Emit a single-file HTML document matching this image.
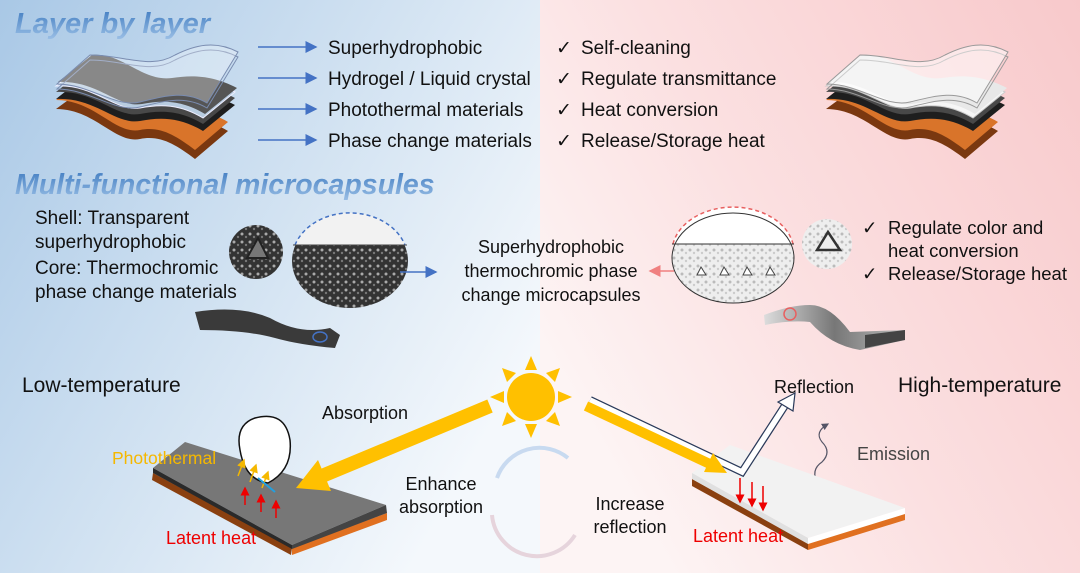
<!DOCTYPE html>
<html><head><meta charset="utf-8"><style>
html,body{margin:0;padding:0;width:1080px;height:573px;overflow:hidden}
svg{display:block;font-family:"Liberation Sans",Arial,sans-serif}
</style></head><body>
<svg width="1080" height="573" viewBox="0 0 1080 573" xmlns="http://www.w3.org/2000/svg">
<defs>
<linearGradient id="bl" x1="0" y1="0" x2="1" y2="0.6">
<stop offset="0" stop-color="#a9c8e6"/><stop offset="0.6" stop-color="#d6e5f3"/><stop offset="1" stop-color="#f4f8fc"/></linearGradient>
<linearGradient id="pk" x1="1" y1="0" x2="0" y2="0.6">
<stop offset="0" stop-color="#f8c9cb"/><stop offset="0.6" stop-color="#fbe0e1"/><stop offset="1" stop-color="#fdf4f4"/></linearGradient>
<linearGradient id="tt" x1="0" y1="0" x2="0" y2="1"><stop offset="0" stop-color="#3f7bc0"/><stop offset="1" stop-color="#9cc0e6"/></linearGradient>
<linearGradient id="gr" x1="0" y1="0" x2="1" y2="0"><stop offset="0" stop-color="#ddd"/><stop offset="0.5" stop-color="#777"/><stop offset="1" stop-color="#bbb"/></linearGradient>
<marker id="ab" markerWidth="8" markerHeight="8" refX="7" refY="4" orient="auto"><path d="M0,0 L8,4 L0,8z" fill="#4472c4"/></marker>
<marker id="ar" markerWidth="8" markerHeight="8" refX="7" refY="4" orient="auto"><path d="M0,0 L8,4 L0,8z" fill="#f08080"/></marker>
<marker id="rd" markerWidth="6" markerHeight="6" refX="5" refY="3" orient="auto"><path d="M0,0 L6,3 L0,6z" fill="#e00"/></marker>
<marker id="yl" markerWidth="6" markerHeight="6" refX="5" refY="3" orient="auto"><path d="M0,0 L6,3 L0,6z" fill="#f5b800"/></marker>
<marker id="gy" markerWidth="6" markerHeight="6" refX="5" refY="3" orient="auto"><path d="M0,0 L6,3 L0,6z" fill="#556"/></marker>
<pattern id="dots" width="8" height="8" patternUnits="userSpaceOnUse"><rect width="8" height="8" fill="#333"/><circle cx="2" cy="2" r="1.5" fill="#aaa"/><circle cx="6" cy="5" r="1.2" fill="#777"/></pattern>
<pattern id="ldots" width="8" height="8" patternUnits="userSpaceOnUse"><rect width="8" height="8" fill="#eee"/><circle cx="2" cy="2" r="1.5" fill="#bbb"/><circle cx="6" cy="5" r="1.2" fill="#ccc"/></pattern>
<g id="orng"><path d="M56,100 C95,100 115,135 140,130 C160,126 175,135 195,150 L228,122 C205,108 185,110 165,110 C140,110 120,75 90,75 Z"/></g>
<g id="blk"><path d="M56,92 C95,90 115,118 140,114 C160,110 180,110 203,124 L235,98 C210,85 190,85 170,88 C140,92 120,62 90,65 Z"/></g>
<g id="trn"><path d="M57,84 C90,84 115,108 140,102 C165,96 185,90 207,103 L238,52 C215,40 195,45 175,55 C150,70 125,55 90,55 Z"/></g>
</defs>
<rect x="0" y="0" width="540" height="573" fill="url(#bl)"/>
<rect x="540" y="0" width="540" height="573" fill="url(#pk)"/>

<text x="15" y="33" font-size="29" font-weight="bold" font-style="italic" fill="url(#tt)">Layer by layer</text>
<text x="15" y="194" font-size="28.5" font-weight="bold" font-style="italic" fill="url(#tt)">Multi-functional microcapsules</text>

<g>
<use href="#orng" transform="translate(0,9)" fill="#7a3810"/>
<use href="#orng" fill="#d9742a"/>
<use href="#blk" transform="translate(0,7)" fill="#1e1e1e"/>
<use href="#blk" fill="#484848"/>
<use href="#blk" transform="translate(0,-6)" fill="#b8cce0" stroke="#eef" stroke-width="1"/>
<use href="#blk" transform="translate(2,-10)" fill="#555"/>
<use href="#trn" transform="translate(0,5)" fill="none" stroke="#7a8cb0" stroke-width="1"/>
<use href="#trn" fill="rgba(255,255,255,0.3)" stroke="#7a8cb0" stroke-width="1"/>
</g>
<g transform="translate(770,0)">
<use href="#orng" transform="translate(0,9)" fill="#7a3810"/>
<use href="#orng" fill="#d9742a"/>
<use href="#blk" transform="translate(0,7)" fill="#1e1e1e"/>
<use href="#blk" fill="#484848"/>
<use href="#blk" transform="translate(0,-6)" fill="#f6f6f6" stroke="#ccc" stroke-width="1"/>
<use href="#blk" transform="translate(2,-10)" fill="#e8e8e8"/>
<use href="#trn" transform="translate(0,5)" fill="none" stroke="#999" stroke-width="1"/>
<use href="#trn" fill="rgba(255,255,255,0.5)" stroke="#999" stroke-width="1"/>
</g>

<g stroke="#4472c4" stroke-width="1.5" marker-end="url(#ab)">
<line x1="258" y1="47" x2="316" y2="47"/><line x1="258" y1="78" x2="316" y2="78"/>
<line x1="258" y1="109" x2="316" y2="109"/><line x1="258" y1="140" x2="316" y2="140"/>
</g>
<g font-size="19" fill="#111">
<text x="328" y="54">Superhydrophobic</text>
<text x="328" y="85">Hydrogel / Liquid crystal</text>
<text x="328" y="116">Photothermal materials</text>
<text x="328" y="147">Phase change materials</text>
<text x="556" y="54">✓</text><text x="581" y="54">Self-cleaning</text>
<text x="556" y="85">✓</text><text x="581" y="85">Regulate transmittance</text>
<text x="556" y="116">✓</text><text x="581" y="116">Heat conversion</text>
<text x="556" y="147">✓</text><text x="581" y="147">Release/Storage heat</text>
</g>

<g font-size="19" fill="#111">
<text x="35" y="224">Shell: Transparent</text>
<text x="35" y="248">superhydrophobic</text>
<text x="35" y="274">Core: Thermochromic</text>
<text x="35" y="298">phase change materials</text>
</g>
<circle cx="256" cy="252" r="27" fill="url(#dots)"/>
<path d="M247,258 L258,238 L268,258z" fill="#777" stroke="#222" stroke-width="2"/>
<ellipse cx="350" cy="261" rx="58" ry="47" fill="url(#dots)"/>
<path d="M295,245 A58,47 0 0 1 405,245z" fill="#f2f2f2"/>
<path d="M295,245 A58,47 0 0 1 405,245" fill="none" stroke="#4472c4" stroke-width="1.5" stroke-dasharray="4,3"/>
<line x1="293" y1="245" x2="407" y2="245" stroke="#444"/>
<line x1="400" y1="272" x2="436" y2="272" stroke="#4472c4" stroke-width="1.5" marker-end="url(#ab)"/>
<path d="M195,312 Q240,305 270,318 Q300,335 330,328 L340,335 L335,348 Q300,345 275,338 Q245,330 200,330z" fill="#3a3a3a"/>
<ellipse cx="320" cy="337" rx="7" ry="5" fill="none" stroke="#4472c4" stroke-width="1.5"/>
<g font-size="18" fill="#111" text-anchor="middle">
<text x="551" y="253">Superhydrophobic</text>
<text x="551" y="277">thermochromic phase</text>
<text x="551" y="301">change microcapsules</text>
</g>
<line x1="674" y1="271" x2="650" y2="271" stroke="#f08080" stroke-width="1.5" marker-end="url(#ar)"/>

<ellipse cx="733" cy="258" rx="61" ry="45" fill="url(#ldots)"/>
<path d="M673,244 A61,45 0 0 1 793,244z" fill="#fff"/>
<path d="M673,244 A61,45 0 0 1 793,244" fill="none" stroke="#e86060" stroke-width="1.5" stroke-dasharray="4,3"/>
<line x1="672" y1="244" x2="794" y2="244" stroke="#333"/>
<ellipse cx="733" cy="258" rx="61" ry="45" fill="none" stroke="#333"/>
<g fill="#fff" stroke="#444"><path d="M697,275 l4,-8 l5,8z"/><path d="M720,275 l4,-8 l5,8z"/><path d="M743,275 l4,-8 l5,8z"/><path d="M766,275 l4,-8 l5,8z"/></g>
<circle cx="827" cy="244" r="25" fill="url(#ldots)"/>
<path d="M817,250 L828,232 L840,250z" fill="#eee" stroke="#333" stroke-width="2.5"/>
<path d="M764,315 Q790,305 810,305 Q830,305 850,332 L905,330 L905,340 L860,350 Q830,345 810,322 Q790,320 765,325z" fill="url(#gr)"/>
<path d="M865,335 L905,330 L905,340 L865,348z" fill="#444"/>
<circle cx="790" cy="314" r="6" fill="none" stroke="#e86060" stroke-width="1.5"/>
<g font-size="18.5" fill="#111">
<text x="862" y="234">✓</text><text x="888" y="234">Regulate color and</text>
<text x="888" y="257">heat conversion</text>
<text x="862" y="280">✓</text><text x="888" y="280">Release/Storage heat</text>
</g>

<text x="22" y="392" font-size="21" fill="#111">Low-temperature</text>
<text x="898" y="392" font-size="21" fill="#111">High-temperature</text>

<g fill="#ffc000">
<circle cx="531" cy="397" r="24"/>
<path d="M531,356 l-6,14 h12z"/><path d="M531,438 l-6,-14 h12z"/>
<path d="M490,397 l14,-6 v12z"/><path d="M572,397 l-14,-6 v12z"/>
<path d="M502,368 l5,14 l9,-9z"/><path d="M560,368 l-5,14 l-9,-9z"/>
<path d="M502,426 l5,-14 l9,9z"/><path d="M560,426 l-5,-14 l-9,9z"/>
</g>
<text x="322" y="419" font-size="18" fill="#111">Absorption</text>
<text x="774" y="393" font-size="18" fill="#111">Reflection</text>
<path d="M818,484 Q810,470 822,462 Q832,452 822,442 Q814,432 828,424" fill="none" stroke="#556" stroke-width="1.2" marker-end="url(#gy)"/>
<text x="857" y="460" font-size="18" fill="#444">Emission</text>

<path d="M497,478 A45,45 0 0 1 568,458" fill="none" stroke="#c8daf0" stroke-width="4"/>
<path d="M492,515 A45,45 0 0 0 575,535" fill="none" stroke="#e6d4dc" stroke-width="4"/>
<g font-size="18" fill="#111" text-anchor="middle">
<text x="441" y="490">Enhance</text><text x="441" y="513">absorption</text>
<text x="630" y="510">Increase</text><text x="630" y="533">reflection</text>
</g>

<path d="M153,473 L292,548 L291,555 L152,480z" fill="#8a4010"/>
<path d="M292,548 L387,513 L387,520 L292,555z" fill="#e07020"/>
<path d="M153,468 L185,442 L386,505 L292,545z" fill="#777"/>
<path d="M153,468 L292,545 L292,549 L153,473z" fill="#2a2a2a"/>
<path d="M292,545 L386,505 L387,513 L292,549z" fill="#444"/>
<path d="M240,450 Q235,425 255,418 Q285,410 290,440 Q293,470 268,483 Q245,480 240,450z" fill="#fff" stroke="#111" stroke-width="1.5"/>
<g stroke="#f5b800" stroke-width="1.5" marker-end="url(#yl)"><line x1="238" y1="476" x2="244" y2="460"/><line x1="250" y1="482" x2="256" y2="465"/><line x1="262" y1="488" x2="268" y2="472"/></g>
<line x1="258" y1="478" x2="275" y2="492" stroke="#22a0e0" stroke-width="2"/>
<g stroke="#e00" stroke-width="1.5" marker-end="url(#rd)"><line x1="245" y1="505" x2="245" y2="488"/><line x1="261" y1="512" x2="261" y2="495"/><line x1="276" y1="518" x2="276" y2="501"/></g>
<text x="112" y="464" font-size="17.5" fill="#f5b800">Photothermal</text>
<text x="166" y="544" font-size="18" fill="#e00">Latent heat</text>

<path d="M692,479 L808,543 L808,550 L692,486z" fill="#8a4010"/>
<path d="M808,543 L905,513 L905,520 L808,550z" fill="#e07020"/>
<path d="M692,473 L730,445 L905,508 L808,538z" fill="#f2f2f2"/>
<path d="M692,473 L808,538 L808,544 L692,479z" fill="#e0e0e0"/>
<path d="M808,538 L905,508 L905,514 L808,544z" fill="#fff"/>
<g stroke="#e00" stroke-width="1.5" marker-end="url(#rd)"><line x1="740" y1="478" x2="740" y2="502"/><line x1="752" y1="482" x2="752" y2="506"/><line x1="763" y1="486" x2="763" y2="510"/></g>
<text x="693" y="542" font-size="18" fill="#e00">Latent heat</text>

<line x1="490" y1="406" x2="322" y2="476" stroke="#ffc000" stroke-width="14"/>
<polygon points="296,488 331,491 318,460" fill="#ffc000"/>
<path d="M590,400 L742,472 L786,404" fill="none" stroke="#2a3a5a" stroke-width="8" stroke-linejoin="miter"/>
<path d="M590,400 L742,472 L786,404" fill="none" stroke="#fff" stroke-width="5.5" stroke-linejoin="miter"/>
<polygon points="795,393 793,411 778,402" fill="#fff" stroke="#2a3a5a" stroke-width="1.2"/>
<line x1="586" y1="406" x2="712" y2="465" stroke="#ffc000" stroke-width="10"/>
<polygon points="727,473 704,472 713,453" fill="#ffc000"/>
</svg>
</body></html>
